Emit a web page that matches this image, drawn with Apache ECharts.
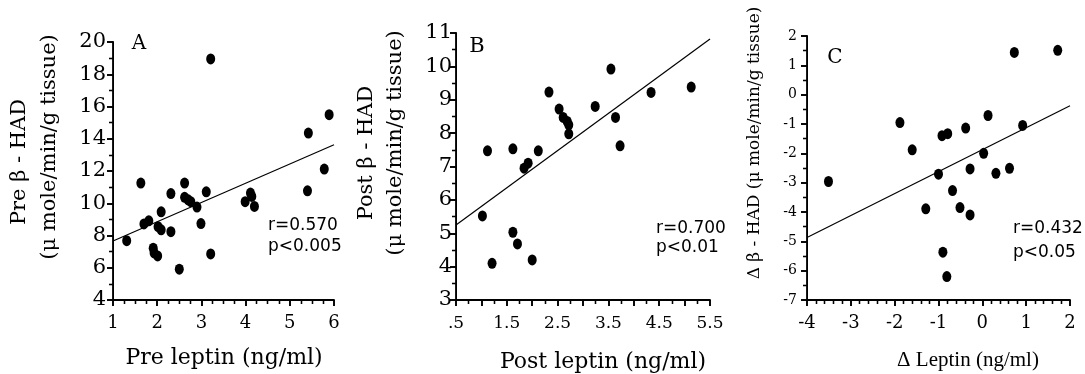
<!DOCTYPE html>
<html><head><meta charset="utf-8">
<script src="https://cdn.jsdelivr.net/npm/echarts@6/dist/echarts.min.js"></script>
<style>html,body{margin:0;padding:0;background:#fff}#c{width:1085px;height:374px}</style>
</head><body><div id="c"></div>
<script>
// ---- Panel A: Pre leptin vs Pre beta-HAD
const preLeptin = [1.31,1.63,1.70,1.81,1.91,1.93,2.01,2.02,2.09,2.09,2.31,2.31,2.50,2.62,2.62,2.70,2.76,2.90,2.99,3.11,3.21,3.21,3.99,4.11,4.14,4.20,5.42,5.40,5.78,5.89];
const preHAD    = [7.68,11.25,8.72,8.91,7.21,6.92,6.73,8.55,8.35,9.47,10.6,8.24,5.91,11.25,10.37,10.21,10.1,9.76,8.74,10.71,18.95,6.86,10.1,10.63,10.42,9.8,14.35,10.77,12.12,15.49];
const fitA = [[1, 7.66], [6, 13.63]];
const xTicksA = [1,2,3,4,5,6];
const yTicksA = [4,6,8,10,12,14,16,18,20];

// ---- Panel B: Post leptin vs Post beta-HAD
const postLeptin = [1.02,1.12,1.21,1.62,1.62,1.71,1.84,1.92,2.00,2.12,2.33,2.53,2.61,2.69,2.72,2.72,3.24,3.55,3.64,3.73,4.34,5.13];
const postHAD    = [5.52,7.47,4.10,7.53,5.03,4.68,6.95,7.10,4.20,7.47,9.23,8.72,8.47,8.35,8.25,7.98,8.80,9.92,8.47,7.62,9.22,9.38];
const fitB = [[0.5, 5.25], [5.5, 10.82]];
const xTickValsB = [0.5,1.5,2.5,3.5,4.5,5.5];
const xTickLabelsB = ['.5','1.5','2.5','3.5','4.5','5.5'];
const yTicksB = [3,4,5,6,7,8,9,10,11];

// ---- Panel C: delta leptin vs delta beta-HAD
const deltaLeptin = [-3.51,-1.88,-1.60,-1.29,-1.00,-0.92,-0.79,-0.90,-0.81,-0.68,-0.51,-0.38,-0.28,-0.28,0.03,0.13,0.31,0.62,0.73,0.92,1.72];
const deltaHAD    = [-2.96,-0.95,-1.88,-3.89,-2.71,-1.40,-1.33,-5.37,-6.20,-3.27,-3.85,-1.14,-2.53,-4.10,-2.00,-0.71,-2.68,-2.51,1.44,-1.05,1.51];
const fitC = [[-4, -4.87], [2, -0.38]];
const xTicksC = [-4,-3,-2,-1,0,1,2];
const yTicksC = [-7,-6,-5,-4,-3,-2,-1,0,1,2];

const statsA = ['r=0.570', 'p<0.005'];
const statsB = ['r=0.700', 'p<0.01'];
const statsC = ['r=0.432', 'p<0.05'];

const SERIF = 'DejaVu Serif';
const SANS = 'DejaVu Sans';

function pairs(xs, ys) { return xs.map((x, i) => [x, ys[i]]); }
function near(a, b) { return Math.abs(a - b) < 1e-6; }

// main axes: line + labels
function axis(gi, pos, ticks, interval, minorSplit, fontSize, margin, fmt) {
  const a = {
    type: 'value', gridIndex: gi, position: pos, min: ticks[0], max: ticks[ticks.length - 1], interval,
    splitLine: { show: false },
    axisLine: { show: true, onZero: false, lineStyle: { color: '#000', width: 1.8 } },
    axisTick: { show: true, length: 6, lineStyle: { color: '#000', width: 1.6 } },
    minorTick: { show: true, splitNumber: minorSplit, length: 4, lineStyle: { color: '#000', width: 1.3 } },
    axisLabel: { show: true, color: '#000', fontFamily: SERIF, fontSize, margin }
  };
  if (fmt) a.axisLabel.formatter = fmt;
  return a;
}
// companion axes in the same grids, drawn only for their tick marks
function tickAxis(gi, pos, ticks, interval, minorSplit) {
  return {
    type: 'value', gridIndex: gi, position: pos, offset: 0, min: ticks[0], max: ticks[ticks.length - 1], interval,
    splitLine: { show: false },
    axisLine: { show: true, onZero: false, lineStyle: { color: '#000', width: 1 } },
    axisTick: { show: true, length: 6, lineStyle: { color: '#000', width: 1.6 } },
    minorTick: { show: true, splitNumber: minorSplit, length: 4, lineStyle: { color: '#000', width: 1.3 } },
    axisLabel: { show: false }
  };
}
const bFmt = (v) => { const i = xTickValsB.findIndex(x => near(x, v)); return i < 0 ? '' : xTickLabelsB[i]; };

const grids = [
  { left: 113, top: 42, width: 221, height: 258 },
  { left: 456, top: 33, width: 254, height: 267 },
  { left: 807, top: 36, width: 263, height: 264 }
];

function scat(i, data) {
  return { type: 'scatter', xAxisIndex: i, yAxisIndex: i, data, symbol: 'circle', symbolSize: [9, 11],
    itemStyle: { color: '#000', opacity: 1 } };
}
function fit(i, data) {
  return { type: 'line', xAxisIndex: i, yAxisIndex: i, data, symbol: 'none', lineStyle: { color: '#000', width: 1.2 } };
}

function txt(text, x, y, size, family, align, rot) {
  return {
    type: 'text', x, y, rotation: rot || 0, silent: true,
    style: { text, x: 0, y: 0, fill: '#000', font: size + 'px "' + family + '"', textAlign: align || 'center', textVerticalAlign: 'middle' }
  };
}
const R = Math.PI / 2;

const option = {
  animation: false,
  grid: grids,
  xAxis: [
    axis(0, 'bottom', xTicksA, 1, 4, 18, 14),
    axis(1, 'bottom', xTickValsB, 0.5, 2, 17, 15, bFmt),
    axis(2, 'bottom', xTicksC, 1, 5, 18, 14),
    tickAxis(0, 'bottom', xTicksA, 1, 4),
    tickAxis(1, 'bottom', xTickValsB, 0.5, 2),
    tickAxis(2, 'bottom', xTicksC, 1, 5)
  ],
  yAxis: [
    axis(0, 'left', yTicksA, 2, 2, 21, 7),
    axis(1, 'left', yTicksB, 1, 2, 21, 4),
    axis(2, 'left', yTicksC, 1, 2, 14, 10),
    tickAxis(0, 'left', yTicksA, 2, 2),
    tickAxis(1, 'left', yTicksB, 1, 2),
    tickAxis(2, 'left', yTicksC, 1, 2)
  ],
  series: [
    scat(0, pairs(preLeptin, preHAD)), fit(0, fitA),
    scat(1, pairs(postLeptin, postHAD)), fit(1, fitB),
    scat(2, pairs(deltaLeptin, deltaHAD)), fit(2, fitC)
  ],
  graphic: [
    txt('A', 139, 44, 20, SERIF),
    txt('B', 477, 47, 21, SERIF),
    txt('C', 835, 58, 20, SERIF),
    txt(statsA[0], 268, 226, 17, SANS, 'left'),
    txt(statsA[1], 268, 247, 17, SANS, 'left'),
    txt(statsB[0], 656, 229, 17, SANS, 'left'),
    txt(statsB[1], 656, 248, 17, SANS, 'left'),
    txt(statsC[0], 1013, 229, 17, SANS, 'left'),
    txt(statsC[1], 1013, 253, 17, SANS, 'left'),
    txt('Pre leptin (ng/ml)', 224, 358, 22, SERIF),
    txt('Post leptin (ng/ml)', 603, 362, 22, SERIF),
    txt('Δ Leptin (ng/ml)', 968, 360, 21, 'Liberation Serif'),
    txt('Pre β - HAD', 20, 162, 21, SERIF, 'center', R),
    txt('(μ mole/min/g tissue)', 49.5, 147, 21, SERIF, 'center', R),
    txt('Post β - HAD', 367, 153, 21, SERIF, 'center', R),
    txt('(μ mole/min/g tissue)', 396, 143, 21, SERIF, 'center', R),
    txt('Δ β - HAD (μ mole/min/g tissue)', 755, 143, 17, SERIF, 'center', R)
  ]
};
echarts.init(document.getElementById('c')).setOption(option);
</script></body></html>
